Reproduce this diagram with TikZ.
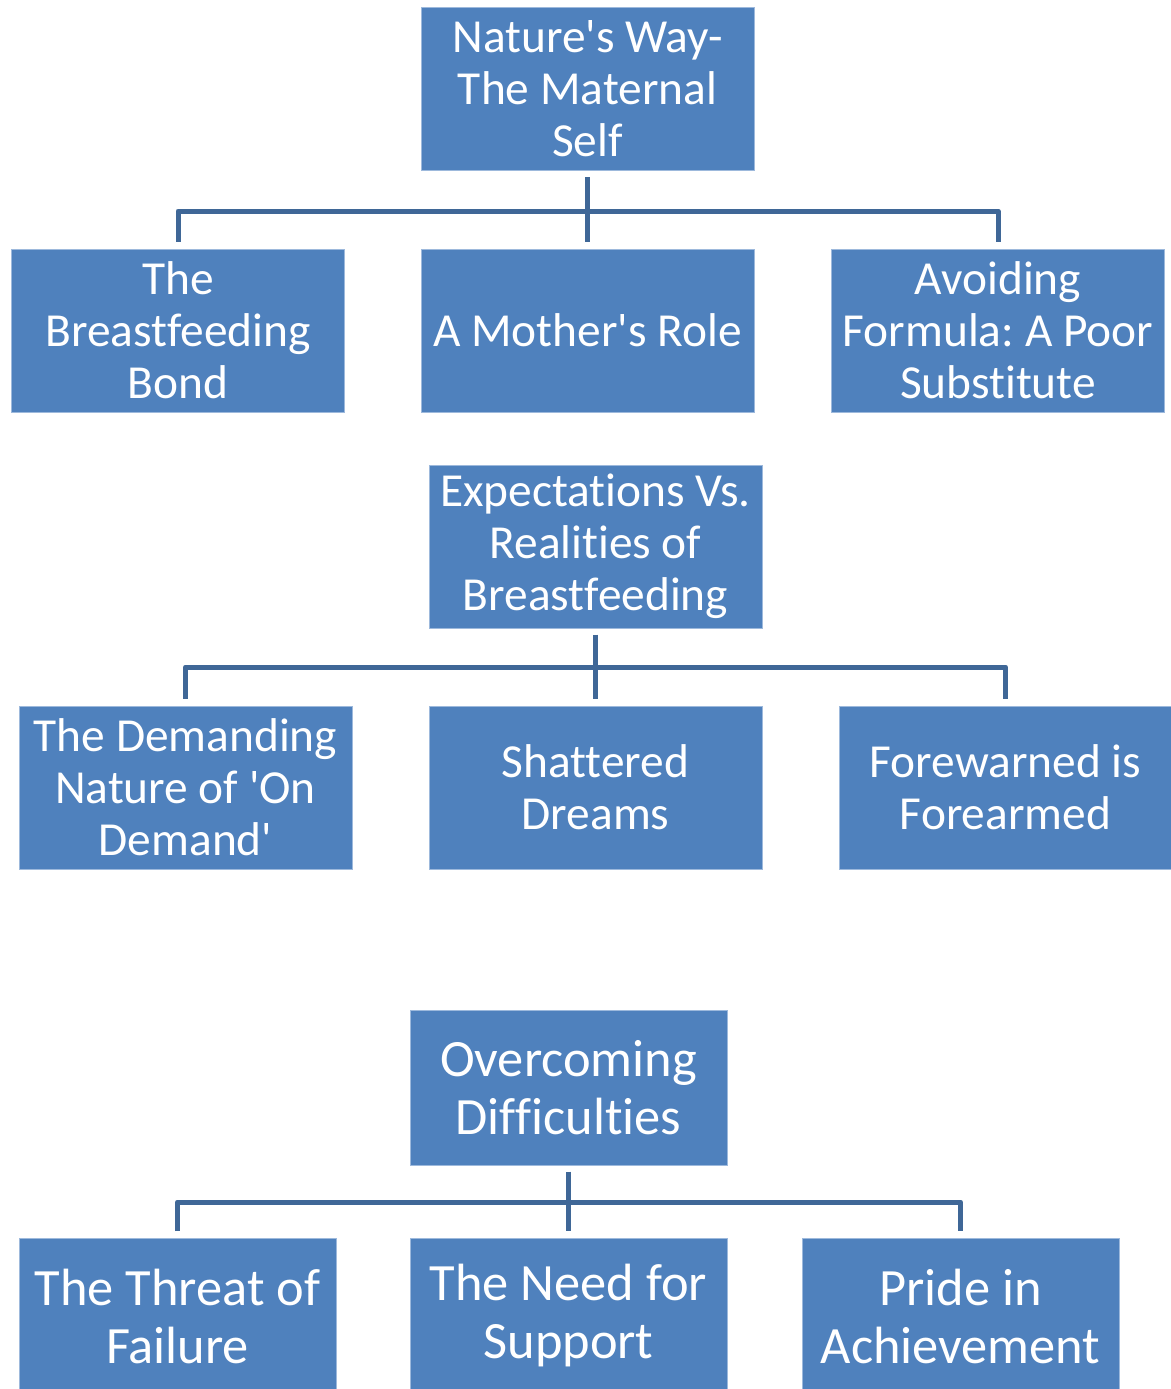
\documentclass[tikz,border=0pt]{standalone}
\usepackage{fontspec}
\setmainfont{Carlito}[Ligatures={TeXOff,CommonOff}]
\definecolor{boxfill}{HTML}{4F81BD}
\definecolor{boxedge}{HTML}{9DB9DC}
\definecolor{linkblue}{HTML}{3F6797}
\begin{document}
\frenchspacing
\begin{tikzpicture}[x=0.5pt,y=-0.5pt,
  box/.style={draw=boxedge, line width=0.5pt, fill=boxfill, text=white,
    align=center, inner sep=0pt, minimum width=166.5pt, minimum height=81.5pt,
    font=\fontsize{23.7pt}{26pt}\selectfont},
  bigbox/.style={box, minimum width=158.5pt, minimum height=77.5pt,
    font=\fontsize{26.2pt}{29pt}\selectfont},
  conn/.style={draw=linkblue, line width=2.5pt, line join=round}]
\clip (0,0) rectangle (1171,1389);
\fill[white] (0,0) rectangle (1171,1389);

% first theme
\node[box] (n1) at (587.5,89) {Nature's Way-\\The Maternal\\Self};
\node[box] (n1a) at (178,330.5) {The\\Breastfeeding\\Bond};
\node[box] (n1b) at (587.5,330.5) {A Mother's Role};
\node[box] (n1c) at (998,330.5) {Avoiding\\Formula: A Poor\\Substitute};
\coordinate (bus1) at (0,211);
\draw[conn] ([yshift=-3pt]n1.south) -- ([yshift=3.5pt]n1b.north);
\draw[conn] ([yshift=3.5pt]n1a.north) -- (n1a.north |- bus1) -- (n1c.north |- bus1) -- ([yshift=3.5pt]n1c.north);

% second theme
\node[box] (n2) at (595.5,546.5) {Expectations Vs.\\Realities of\\Breastfeeding};
\node[box] (n2a) at (185.5,787.5) {The Demanding\\Nature of 'On\\Demand'};
\node[box] (n2b) at (595.5,787.5) {Shattered\\Dreams};
\node[box] (n2c) at (1005.5,787.5) {Forewarned is\\Forearmed};
\coordinate (bus2) at (0,667);
\draw[conn] ([yshift=-3pt]n2.south) -- ([yshift=3.5pt]n2b.north);
\draw[conn] ([yshift=3.5pt]n2a.north) -- (n2a.north |- bus2) -- (n2c.north |- bus2) -- ([yshift=3.5pt]n2c.north);

% third theme
\node[bigbox] (n3) at (568.5,1087.5) {Overcoming\\Difficulties};
\node[bigbox] (n3a) at (177.5,1316) {The Threat of\\Failure};
\node[bigbox] (n3b) at (568.5,1316) {The Need for\\Support};
\node[bigbox] (n3c) at (960.5,1316) {Pride in\\Achievement};
\coordinate (bus3) at (0,1202);
\draw[conn] ([yshift=-3pt]n3.south) -- ([yshift=3.5pt]n3b.north);
\draw[conn] ([yshift=3.5pt]n3a.north) -- (n3a.north |- bus3) -- (n3c.north |- bus3) -- ([yshift=3.5pt]n3c.north);
\end{tikzpicture}
\end{document}
